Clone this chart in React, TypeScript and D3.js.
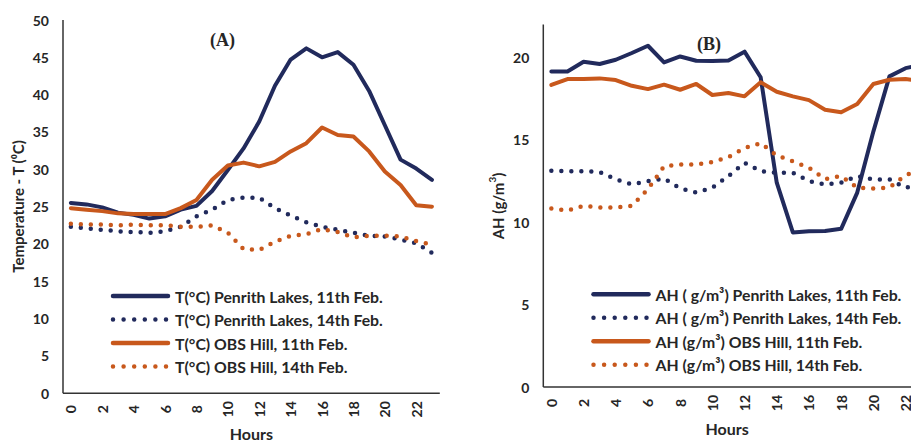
import * as d3 from 'd3';

// Hours of the day (category axis)
const hours = ['0', '1', '2', '3', '4', '5', '6', '7', '8', '9', '10', '11', '12', '13', '14', '15', '16', '17', '18', '19', '20', '21', '22', '23'];
const hourTicks = ['0', '2', '4', '6', '8', '10', '12', '14', '16', '18', '20', '22'];

// Panel A - temperature (°C)
const tempPenrith11 = [25.5, 25.3, 24.9, 24.2, 23.9, 23.4, 23.7, 24.6, 25.1, 27.1, 29.9, 32.8, 36.4, 41.2, 44.7, 46.2, 45.0, 45.7, 44.0, 40.5, 35.9, 31.3, 30.1, 28.6];
const tempPenrith14 = [22.3, 22.1, 21.9, 21.7, 21.6, 21.5, 21.7, 22.3, 23.7, 24.6, 25.9, 26.2, 26.2, 24.8, 23.8, 22.9, 22.3, 21.9, 21.5, 21.1, 21.0, 20.6, 20.1, 18.8];
const tempObs11 = [24.8, 24.6, 24.4, 24.1, 24.0, 24.0, 24.0, 24.8, 25.9, 28.6, 30.5, 30.9, 30.4, 31.0, 32.4, 33.5, 35.6, 34.6, 34.4, 32.4, 29.7, 27.9, 25.2, 25.0];
const tempObs14 = [22.7, 22.6, 22.6, 22.5, 22.6, 22.5, 22.5, 22.3, 22.3, 22.5, 21.5, 19.3, 19.2, 20.3, 21.1, 21.3, 22.0, 21.6, 20.9, 21.1, 21.1, 21.0, 20.4, 19.9];
const tempTicks = [0, 5, 10, 15, 20, 25, 30, 35, 40, 45, 50];

// Panel B - absolute humidity (g/m³)
const ahPenrith11 = [19.15, 19.15, 19.74, 19.6, 19.86, 20.27, 20.71, 19.7, 20.06, 19.8, 19.78, 19.82, 20.35, 18.8, 12.4, 9.38, 9.45, 9.47, 9.6, 11.8, 15.5, 18.85, 19.35, 19.55];
const ahPenrith14 = [13.13, 13.1, 13.1, 13.05, 12.6, 12.3, 12.5, 12.65, 12.05, 11.8, 12.1, 12.8, 13.6, 13.1, 13.0, 13.0, 12.5, 12.3, 12.4, 12.8, 12.6, 12.6, 12.1, 12.3];
const ahObs11 = [18.33, 18.69, 18.69, 18.73, 18.63, 18.28, 18.08, 18.35, 18.04, 18.39, 17.72, 17.84, 17.64, 18.49, 17.92, 17.64, 17.41, 16.83, 16.67, 17.17, 18.39, 18.65, 18.69, 18.55];
const ahObs14 = [10.84, 10.7, 11.0, 10.9, 10.9, 11.0, 12.0, 13.4, 13.5, 13.5, 13.65, 13.95, 14.5, 14.8, 14.05, 13.7, 13.3, 12.62, 12.8, 12.1, 12.05, 12.1, 12.85, 13.2];
const ahTicks = [0, 5, 10, 15, 20];

const NAVY = '#212a5c';
const ORANGE = '#c8581c';
const TEXT = '#262626';
const FONT = "Lato, 'Open Sans', sans-serif";

type Series = { label: string; values: number[]; color: string; dotted: boolean };

type PanelProps = {
  series: Series[];
  xLeft: number;
  step: number;
  yMax: number;
  yTop: number;
  yBottom: number;
  yTicks: number[];
  title: string;
  titleX: number;
  titleY: number;
  yLabel: React.ReactNode;
  yLabelX: number;
  yLabelY: number;
  hoursY: number;
  legendX: number;
  legendY: number;
};

function Panel(p: PanelProps) {
  const x = d3.scalePoint<string>()
    .domain(hours)
    .range([p.xLeft, p.xLeft + p.step * hours.length])
    .padding(0.5);
  const y = d3.scaleLinear().domain([0, p.yMax]).range([p.yBottom, p.yTop]);
  const line = d3.line<number>()
    .x((_, i) => x(hours[i]) ?? 0)
    .y(d => y(d));
  const xRight = p.xLeft + p.step * hours.length;

  return (
    <g fontFamily={FONT} fill={TEXT}>
      {/* series */}
      {p.series.map(s => (
        <path
          key={s.label}
          d={line(s.values) ?? ''}
          fill="none"
          stroke={s.color}
          strokeWidth={s.dotted ? 4.5 : 4}
          strokeLinecap="round"
          strokeLinejoin="round"
          strokeDasharray={s.dotted ? '0 10' : undefined}
        />
      ))}

      {/* axes */}
      <line x1={p.xLeft} x2={p.xLeft} y1={p.yTop} y2={p.yBottom} stroke="#333" strokeWidth={1.5} />
      <line x1={p.xLeft} x2={xRight} y1={p.yBottom} y2={p.yBottom} stroke="#333" strokeWidth={1.5} />

      {p.yTicks.map(t => (
        <text key={t} x={p.xLeft - 14} y={y(t)} textAnchor="end" dominantBaseline="central" fontSize={14} fontWeight="bold">
          {t}
        </text>
      ))}
      {hourTicks.map(h => (
        <text
          key={h}
          transform={`translate(${x(h)},${p.yBottom + 16}) rotate(-90)`}
          textAnchor="middle"
          dominantBaseline="central"
          fontSize={14}
          fontWeight="bold"
        >
          {h}
        </text>
      ))}

      <text x={(p.xLeft + Math.min(xRight, 911)) / 2} y={p.hoursY} textAnchor="middle" fontSize={16} fontWeight="bold">Hours</text>
      <text transform={`translate(${p.yLabelX},${p.yLabelY}) rotate(-90)`} textAnchor="middle" dominantBaseline="central" fontSize={15} fontWeight="bold">
        {p.yLabel}
      </text>
      <text x={p.titleX} y={p.titleY} textAnchor="middle" fontFamily="'Liberation Serif', 'DejaVu Serif', serif" fontSize={18} fontWeight="bold">
        {p.title}
      </text>

      {/* legend */}
      {p.series.map((s, i) => {
        const ly = p.legendY + i * 23.5;
        return (
          <g key={s.label}>
            <line
              x1={p.legendX}
              x2={p.legendX + 55}
              y1={ly}
              y2={ly}
              stroke={s.color}
              strokeWidth={4.5}
              strokeLinecap="round"
              strokeDasharray={s.dotted ? '0 10.6' : undefined}
            />
            <text x={p.legendX + 62} y={ly} dominantBaseline="central" fontSize={15.8} fontWeight="bold">
              {s.label}
            </text>
          </g>
        );
      })}
    </g>
  );
}

export default function App() {
  const seriesA: Series[] = [
    { label: 'T(°C) Penrith Lakes, 11th Feb.', values: tempPenrith11, color: NAVY, dotted: false },
    { label: 'T(°C) Penrith Lakes, 14th Feb.', values: tempPenrith14, color: NAVY, dotted: true },
    { label: 'T(°C) OBS Hill, 11th Feb.', values: tempObs11, color: ORANGE, dotted: false },
    { label: 'T(°C) OBS Hill, 14th Feb.', values: tempObs14, color: ORANGE, dotted: true },
  ];
  const seriesB: Series[] = [
    { label: 'AH ( g/m³) Penrith Lakes, 11th Feb.', values: ahPenrith11, color: NAVY, dotted: false },
    { label: 'AH ( g/m³) Penrith Lakes, 14th Feb.', values: ahPenrith14, color: NAVY, dotted: true },
    { label: 'AH (g/m³) OBS Hill, 11th Feb.', values: ahObs11, color: ORANGE, dotted: false },
    { label: 'AH (g/m³) OBS Hill, 14th Feb.', values: ahObs14, color: ORANGE, dotted: true },
  ];

  return (
    <div style={{ position: 'absolute', left: 0, top: 0 }}>
      <svg width={911} height={442} style={{ display: 'block', background: '#fff' }}>
        <Panel
          series={seriesA}
          xLeft={63}
          step={15.7}
          yMax={50}
          yTop={20}
          yBottom={393.3}
          yTicks={tempTicks}
          title="(A)"
          titleX={222.5}
          titleY={46}
          yLabel={<>Temperature - T (⁰C)</>}
          yLabelX={18}
          yLabelY={206.5}
          hoursY={440}
          legendX={113}
          legendY={296}
        />
        <Panel
          series={seriesB}
          xLeft={543.3}
          step={16.1}
          yMax={22}
          yTop={24.5}
          yBottom={387}
          yTicks={ahTicks}
          title="(B)"
          titleX={709}
          titleY={50}
          yLabel={<>AH (g/m<tspan dy={-6} fontSize={10}>3</tspan><tspan dy={6}>)</tspan></>}
          yLabelX={498}
          yLabelY={206}
          hoursY={435}
          legendX={593.5}
          legendY={294.3}
        />
      </svg>
    </div>
  );
}
